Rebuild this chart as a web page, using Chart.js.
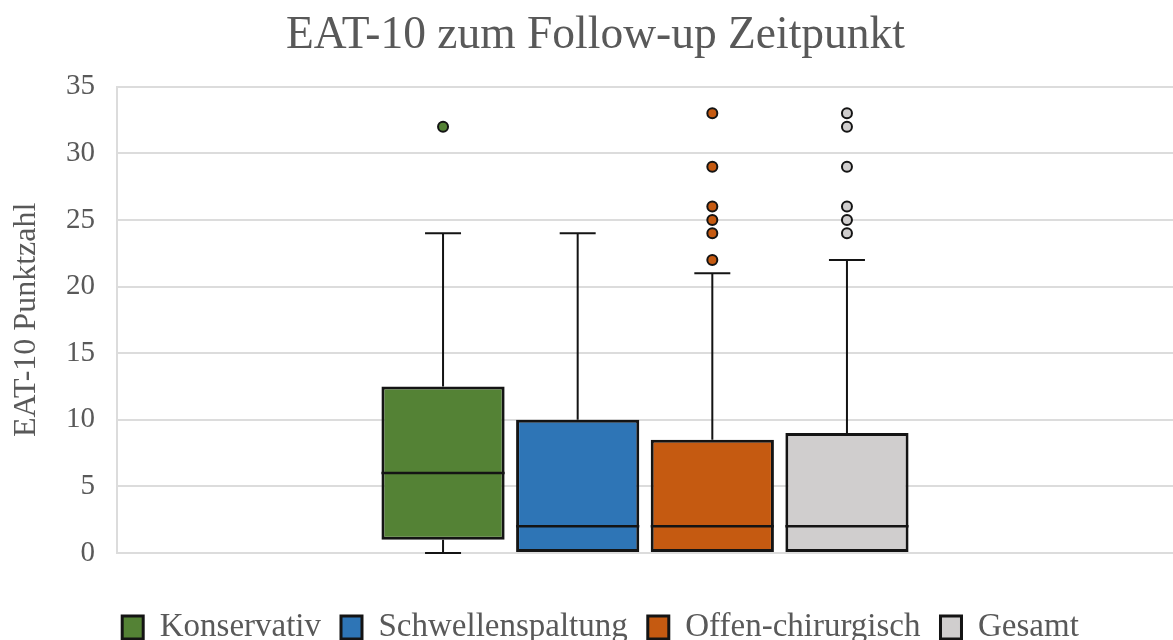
<!DOCTYPE html>
<html lang="de">
<head>
<meta charset="utf-8">
<title>EAT-10 zum Follow-up Zeitpunkt</title>
<script src="https://cdn.jsdelivr.net/npm/chart.js@4.4.1/dist/chart.umd.min.js"></script>
<style>
  html, body { margin: 0; padding: 0; background: #ffffff; overflow: hidden; }
  #wrap { position: relative; width: 1173px; height: 654px; }
</style>
</head>
<body>
<div id="wrap"><canvas id="chart"></canvas></div>
<script>
// Gruppen und Kennwerte der Boxplots (EAT-10 Punktzahl)
const groups = ['Konservativ', 'Schwellenspaltung', 'Offen-chirurgisch', 'Gesamt'];
const minVals = [0, 0, 0, 0];
const q1Vals = [1, 0, 0, 0];
const medianVals = [6, 2, 2, 2];
const q3Vals = [12.5, 10, 8.5, 9];
const maxVals = [24, 24, 21, 22];
const outlierVals = [
  [32],
  [],
  [22, 24, 25, 26, 29, 33],
  [24, 25, 26, 29, 32, 33]
];
const fillColors = ['#548235', '#2E75B6', '#C55A11', '#D0CECE'];
const yTicks = [0, 5, 10, 15, 20, 25, 30, 35];

const serif = "'Liberation Serif', 'Times New Roman', serif";
const textColor = '#595959';
const lineColor = '#141414';

// Whisker, Median und Ausreißer werden an den Balken jeder Gruppe ausgerichtet
const boxParts = {
  id: 'boxParts',
  beforeDatasetsDraw(chart) {
    const ctx = chart.ctx, y = chart.scales.y;
    ctx.save();
    ctx.strokeStyle = lineColor;
    ctx.lineWidth = 2;
    groups.forEach((g, i) => {
      const bar = chart.getDatasetMeta(i).data[0];
      const x = bar.x, cap = 18;
      ctx.beginPath();
      ctx.moveTo(x, y.getPixelForValue(q3Vals[i]));
      ctx.lineTo(x, y.getPixelForValue(maxVals[i]));
      ctx.moveTo(x - cap, y.getPixelForValue(maxVals[i]));
      ctx.lineTo(x + cap, y.getPixelForValue(maxVals[i]));
      if (minVals[i] < q1Vals[i]) {
        ctx.moveTo(x, y.getPixelForValue(q1Vals[i]));
        ctx.lineTo(x, y.getPixelForValue(minVals[i]));
        ctx.moveTo(x - cap, y.getPixelForValue(minVals[i]));
        ctx.lineTo(x + cap, y.getPixelForValue(minVals[i]));
      }
      ctx.stroke();
    });
    ctx.restore();
  },
  afterDatasetsDraw(chart) {
    const ctx = chart.ctx, y = chart.scales.y;
    ctx.save();
    groups.forEach((g, i) => {
      const bar = chart.getDatasetMeta(i).data[0];
      const x = bar.x, half = bar.width / 2;
      const my = y.getPixelForValue(medianVals[i]);
      ctx.strokeStyle = lineColor;
      ctx.lineWidth = 2.5;
      ctx.beginPath();
      ctx.moveTo(x - half, my);
      ctx.lineTo(x + half, my);
      ctx.stroke();
      outlierVals[i].forEach(v => {
        ctx.beginPath();
        ctx.arc(x, y.getPixelForValue(v), 5, 0, Math.PI * 2);
        ctx.fillStyle = fillColors[i];
        ctx.fill();
        ctx.lineWidth = 2;
        ctx.strokeStyle = lineColor;
        ctx.stroke();
      });
    });
    ctx.restore();
  }
};

// Titel und Legende etwas nach rechts versetzt
const blockShift = {
  id: 'blockShift',
  afterLayout(chart) {
    const lg = chart.legend;
    if (lg) { lg.left += 14; lg.right += 14; }
    const tb = chart.titleBlock;
    if (tb) { tb.left += 9; tb.right += 9; }
  }
};

const datasets = groups.map((g, i) => ({
  label: g,
  data: [[q1Vals[i], q3Vals[i]]],
  backgroundColor: fillColors[i],
  borderColor: lineColor,
  borderWidth: 3,
  borderSkipped: false,
  categoryPercentage: 0.51,
  barPercentage: 0.915
}));

new Chart(document.getElementById('chart'), {
  type: 'bar',
  data: { labels: [''], datasets },
  plugins: [boxParts, blockShift],
  options: {
    responsive: true,
    maintainAspectRatio: false,
    animation: false,
    layout: { padding: { left: 0, right: 0, top: 0, bottom: 0 } },
    plugins: {
      tooltip: { enabled: false },
      title: {
        display: true,
        text: 'EAT-10 zum Follow-up Zeitpunkt',
        color: textColor,
        font: { family: serif, size: 45.5, weight: 'normal', lineHeight: 1.2 },
        padding: { top: 8.5, bottom: 23.6 }
      },
      legend: {
        position: 'bottom',
        labels: {
          color: textColor,
          font: { family: serif, size: 33 },
          boxWidth: 21,
          boxHeight: 23,
          padding: 20
        }
      }
    },
    scales: {
      x: {
        ticks: { display: false },
        grid: { display: false },
        border: { display: false },
        afterFit(s) { s.height = 38; }
      },
      y: {
        min: 0,
        max: 35,
        afterBuildTicks(s) { s.ticks = yTicks.map(v => ({ value: v })); },
        afterFit(s) { s.width = 117; },
        ticks: {
          color: textColor,
          font: { family: serif, size: 29 },
          padding: 22
        },
        grid: { color: '#dcdcdc', lineWidth: 2, drawTicks: false },
        border: { display: true, color: '#dcdcdc', width: 2 },
        title: {
          display: true,
          text: 'EAT-10 Punktzahl',
          color: textColor,
          font: { family: serif, size: 32, lineHeight: 1.2 },
          padding: { top: 7, bottom: 0 }
        }
      }
    }
  }
});
</script>
</body>
</html>
